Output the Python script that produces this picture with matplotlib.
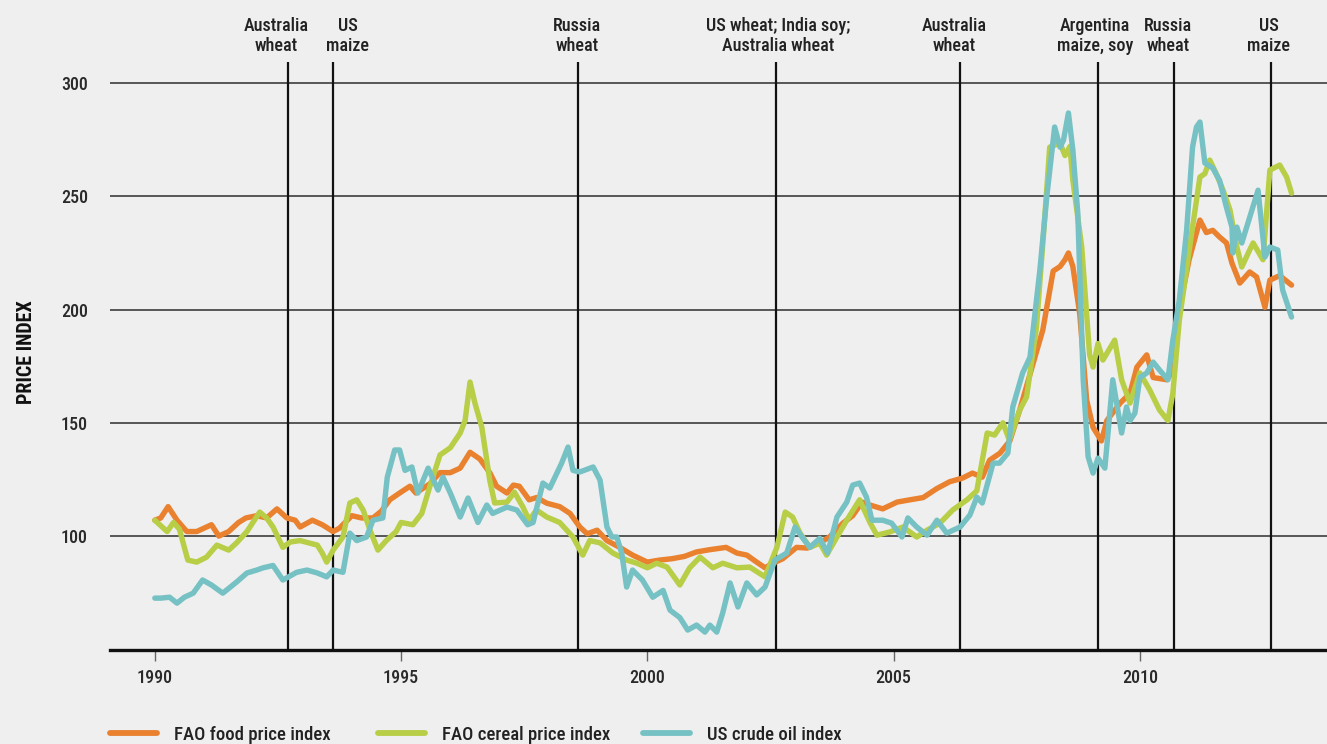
import os
import matplotlib
matplotlib.use("Agg")
import matplotlib.pyplot as plt
from matplotlib.lines import Line2D
import matplotlib.transforms as mtransforms
import matplotlib.font_manager as fm

# ---------------- data ----------------
food_x = [1990.0, 1990.12, 1990.27, 1990.45, 1990.65, 1990.85, 1991.05, 1991.15, 1991.3, 1991.5,
          1991.7, 1991.85, 1992.07, 1992.27, 1992.48, 1992.68, 1992.85, 1992.95, 1993.2, 1993.4,
          1993.62, 1993.75, 1994.0, 1994.2, 1994.43, 1994.6, 1994.77, 1994.97, 1995.18, 1995.3,
          1995.58, 1995.79, 1996.0, 1996.2, 1996.4, 1996.6, 1996.8, 1996.94, 1997.15, 1997.28,
          1997.4, 1997.6, 1997.75, 1997.96, 1998.22, 1998.43, 1998.63, 1998.78, 1998.98, 1999.18,
          1999.44, 1999.7, 2000.0, 2000.25, 2000.5, 2000.75, 2001.0, 2001.27, 2001.6, 2001.82,
          2002.02, 2002.22, 2002.39, 2002.55, 2002.75, 2003.03, 2003.25, 2003.5, 2003.7, 2003.97,
          2004.17, 2004.36, 2004.52, 2004.78, 2005.07, 2005.33, 2005.6, 2005.88, 2006.14, 2006.4,
          2006.6, 2006.8, 2006.95, 2007.16, 2007.36, 2007.56, 2007.83, 2008.03, 2008.24, 2008.38,
          2008.48, 2008.55, 2008.64, 2008.78, 2008.92, 2009.05, 2009.22, 2009.33, 2009.6, 2009.8,
          2009.94, 2010.14, 2010.27, 2010.55, 2010.67, 2010.8, 2011.0, 2011.22, 2011.35, 2011.48,
          2011.62, 2011.76, 2011.87, 2012.03, 2012.23, 2012.37, 2012.54, 2012.64, 2012.84, 2013.08]
food_y = [107, 108, 113, 107, 102, 102, 104, 105, 100, 102,
          106, 108, 109, 108, 112, 108, 107, 104, 107, 105,
          102, 103.5, 109, 108, 108, 111, 116, 119, 122, 119,
          123, 128, 128, 130, 137, 134, 128, 122, 119, 122.5,
          122, 116, 117, 114.5, 113, 110, 104, 101, 102.6, 98,
          95, 91.6, 88.5, 89.4, 90, 91, 93, 94, 95, 92.5,
          91.6, 88.5, 86, 88, 90, 95, 94.7, 97, 99.6, 105.7,
          109, 115, 113.7, 112, 115, 116, 117, 121, 124, 125.6,
          127.8, 126, 133.5, 136.6, 142, 155.6, 176, 191, 217, 219,
          222, 225, 219, 198, 160, 148, 142, 151, 158.7, 163,
          174.6, 180, 170, 169, 173, 200, 222, 239.5, 234, 235,
          232, 229.4, 220.5, 211.7, 216.6, 214.4, 201, 213, 215, 210.8]

cereal_x = [1990.0, 1990.25, 1990.38, 1990.5, 1990.67, 1990.85, 1991.05, 1991.26, 1991.5, 1991.66,
            1991.87, 1992.13, 1992.27, 1992.4, 1992.6, 1992.75, 1992.95, 1993.3, 1993.4, 1993.49,
            1993.62, 1993.82, 1993.96, 1994.1, 1994.23, 1994.37, 1994.53, 1994.7, 1994.9, 1995.0,
            1995.24, 1995.42, 1995.58, 1995.79, 1996.0, 1996.2, 1996.3, 1996.4, 1996.5, 1996.64,
            1996.8, 1996.9, 1997.15, 1997.3, 1997.47, 1997.6, 1997.75, 1997.96, 1998.22, 1998.49,
            1998.69, 1998.83, 1999.04, 1999.3, 1999.58, 1999.79, 2000.0, 2000.19, 2000.4, 2000.66,
            2000.86, 2001.07, 2001.33, 2001.53, 2001.82, 2002.08, 2002.39, 2002.63, 2002.8, 2002.95,
            2003.1, 2003.3, 2003.5, 2003.64, 2003.85, 2004.05, 2004.31, 2004.52, 2004.66, 2004.92,
            2005.19, 2005.47, 2005.68, 2005.94, 2006.2, 2006.49, 2006.69, 2006.9, 2007.05, 2007.22,
            2007.35, 2007.56, 2007.7, 2007.9, 2008.05, 2008.17, 2008.38, 2008.48, 2008.58, 2008.64,
            2008.82, 2008.98, 2009.05, 2009.15, 2009.25, 2009.49, 2009.63, 2009.8, 2010.0, 2010.2,
            2010.4, 2010.57, 2010.67, 2010.8, 2011.06, 2011.22, 2011.32, 2011.42, 2011.55, 2011.69,
            2011.83, 2011.97, 2012.07, 2012.23, 2012.3, 2012.5, 2012.64, 2012.84, 2012.98, 2013.08]
cereal_y = [107, 102, 106, 103, 89.4, 88.5, 90.7, 96, 93.8, 97,
            102, 110.6, 108, 104, 95, 97.4, 98, 96, 92.5, 88.5,
            93.8, 99.6, 114.6, 116, 111.5, 102.6, 93.8, 98, 102, 106,
            105, 110, 121.6, 135.8, 139, 145.5, 151, 168, 158.7, 148,
            124.7, 114.6, 115, 119.4, 113, 107, 111.5, 108.4, 106, 99.6,
            91.6, 98, 97, 92.5, 89.4, 88, 86, 88, 86.3, 78.4,
            86, 90.7, 86, 88, 86, 86.3, 82, 95, 110.6, 108.4,
            101.3, 95, 97, 91.6, 99.6, 107, 116, 106, 100.4, 101.8,
            104, 99.6, 102.6, 105.7, 111.5, 116, 120, 145.5, 144.6, 150,
            142.4, 155.6, 161.4, 192, 235, 271.7, 273.5, 268, 272, 257,
            227.6, 180, 174.6, 185, 177.7, 186.5, 169, 158.7, 172, 164.5,
            155.6, 151, 163, 195, 235, 258.5, 260, 266, 260, 252.7,
            244, 227.6, 218.8, 226.3, 229.4, 222, 261.6, 263.8, 258.5, 251.4]

oil_x = [1990.0, 1990.12, 1990.3, 1990.45, 1990.6, 1990.78, 1990.97, 1991.15, 1991.38, 1991.66,
         1991.87, 1992.07, 1992.2, 1992.4, 1992.6, 1992.88, 1993.09, 1993.3, 1993.49, 1993.62,
         1993.82, 1993.96, 1994.1, 1994.3, 1994.43, 1994.63, 1994.72, 1994.87, 1994.97, 1995.08,
         1995.22, 1995.34, 1995.55, 1995.75, 1995.85, 1996.0, 1996.2, 1996.36, 1996.56, 1996.74,
         1996.86, 1997.15, 1997.35, 1997.57, 1997.68, 1997.88, 1998.02, 1998.26, 1998.39, 1998.49,
         1998.63, 1998.9, 1999.04, 1999.18, 1999.28, 1999.38, 1999.48, 1999.58, 1999.7, 1999.9,
         2000.11, 2000.32, 2000.46, 2000.66, 2000.82, 2001.0, 2001.17, 2001.27, 2001.41, 2001.53,
         2001.68, 2001.84, 2002.02, 2002.22, 2002.39, 2002.59, 2002.83, 2003.0, 2003.16, 2003.3,
         2003.5, 2003.66, 2003.85, 2004.05, 2004.17, 2004.31, 2004.45, 2004.56, 2004.78, 2004.96,
         2005.17, 2005.29, 2005.47, 2005.68, 2005.88, 2006.08, 2006.35, 2006.55, 2006.69, 2006.8,
         2007.02, 2007.15, 2007.32, 2007.42, 2007.62, 2007.77, 2007.9, 2007.97, 2008.11, 2008.27,
         2008.38, 2008.45, 2008.55, 2008.64, 2008.74, 2008.85, 2008.95, 2009.05, 2009.15, 2009.29,
         2009.45, 2009.63, 2009.73, 2009.8, 2009.9, 2010.0, 2010.14, 2010.27, 2010.4, 2010.57,
         2010.67, 2010.8, 2010.95, 2011.07, 2011.15, 2011.22, 2011.32, 2011.48, 2011.62, 2011.76,
         2011.87, 2011.89, 2011.97, 2012.07, 2012.4, 2012.54, 2012.64, 2012.8, 2012.9, 2013.08]
oil_y = [72.6, 72.6, 73, 70.4, 73, 74.8, 80.6, 78.4, 74.8, 79.7,
         83.7, 85, 86, 87, 80.6, 84, 85, 83.7, 82, 85,
         84, 101.3, 98, 99.6, 107, 108, 126, 138, 138, 129,
         130.5, 119, 130, 120.3, 126, 119, 108.4, 116.8, 106, 113.7,
         110, 112.8, 111.5, 105, 106, 123.4, 121.2, 132.2, 139.3, 129,
         128.3, 130.5, 124.7, 104, 99.6, 99.6, 92.5, 77.5, 85, 80.6,
         73, 76, 67.3, 64, 58.5, 60.7, 57.6, 60.7, 57.6, 66,
         79.3, 68.7, 79.3, 74, 77.5, 89.4, 92.5, 104, 99, 95,
         99, 92.5, 108.4, 115, 122.5, 123.4, 117.2, 107, 107, 105.7,
         99.6, 108, 104, 100.4, 107, 101.3, 104, 109.3, 117.2, 114.6,
         132.2, 132.2, 136.6, 157, 172, 179, 204, 217.4, 249.7, 280.6,
         271.7, 274.8, 286.8, 270.4, 242.6, 169, 135, 127.8, 134.4, 130,
         169, 145.5, 157, 151, 154.3, 170, 172, 176.8, 173.3, 169,
         186.5, 204, 235, 271.7, 280.6, 282.8, 264.7, 262.5, 257, 245,
         236.4, 225, 236.4, 229.4, 252.7, 223.2, 227.6, 226.3, 208.6, 196.7]

series_names = ["FAO food price index", "FAO cereal price index", "US crude oil index"]
series_colors = ["#E9812F", "#B7CE46", "#76C1C4"]

event_years = [1992.70, 1993.61, 1998.59, 2002.61, 2006.35, 2009.15, 2010.69, 2012.66]
event_labels = ["Australia\nwheat", "US\nmaize", "Russia\nwheat",
                "US wheat; India soy;\nAustralia wheat", "Australia\nwheat",
                "Argentina\nmaize, soy", "Russia\nwheat", "US\nmaize"]
event_label_x = [1992.46, 1993.92, 1998.57, 2002.65, 2006.24, 2009.09, 2010.57, 2012.62]

y_ticks = [100, 150, 200, 250, 300]
x_ticks = [1990, 1995, 2000, 2005, 2010]


# ---------------- fonts: look for a condensed face ----------------
def find_font(bold=False):
    files = [f.fname for f in fm.fontManager.ttflist]
    regular_prefs = ["notosans-extracondensedmedium", "notosans-extracondensed.ttf",
                     "liberationsansnarrow-regular", "notosans-condensedmedium",
                     "opensans-condensedmedium", "opensans_condensed-medium",
                     "opensans-condensed", "opensans_condensed-regular",
                     "robotocondensed-regular", "roboto-condensed",
                     "notosans-condensed.ttf", "dejavusanscondensed.ttf"]
    bold_prefs = ["notosans-extracondensedbold", "liberationsansnarrow-bold.",
                  "notosans-condensedbold", "opensans-condensedbold",
                  "opensans_condensed-bold", "robotocondensed-bold",
                  "dejavusanscondensed-bold.ttf"]
    prefs = bold_prefs if bold else regular_prefs
    for p in prefs:
        for fn in files:
            base = os.path.basename(fn).lower()
            if p in base and "italic" not in base and "oblique" not in base:
                return fm.FontProperties(fname=fn)
    for fn in files:
        base = os.path.basename(fn).lower()
        if ("narrow" in base or "condensed" in base) and "italic" not in base \
                and "oblique" not in base and (("bold" in base) == bold) \
                and "light" not in base and "thin" not in base:
            return fm.FontProperties(fname=fn)
    return None


def medium_variant(prop):
    # try a slightly heavier weight of the same condensed family
    if prop is None:
        return None
    fn = str(prop.get_file() or "")
    if not fn:
        return prop
    cands = []
    d, b = os.path.split(fn)
    for old, new in [("-Regular", "-Medium"), ("Medium", "Medium"),
                     ("ExtraCondensed.ttf", "ExtraCondensedMedium.ttf"),
                     ("Condensed.ttf", "CondensedMedium.ttf")]:
        if old in b:
            cands.append(os.path.join(d, b.replace(old, new)))
    for c in cands:
        if os.path.exists(c):
            return fm.FontProperties(fname=c)
    return prop


fp_reg = find_font(False)
fp_bold = find_font(True)
if fp_reg is None:
    fp_reg = fm.FontProperties(family=["Liberation Sans", "DejaVu Sans"])
if fp_bold is None:
    fp_bold = fm.FontProperties(family=["Liberation Sans", "DejaVu Sans"], weight="bold")
_name = os.path.basename(str(fp_reg.get_file() or "")).lower()
narrow_scale = 1.15 if ("extracondensed" in _name or "narrow" in _name) else 1.0
fp_med = medium_variant(fp_reg)


def fp(base, size):
    f = base.copy()
    f.set_size(size * narrow_scale)
    return f


# ---------------- figure ----------------
bg = "#EFEFEF"
fig = plt.figure(figsize=(13.27, 7.44), dpi=100, facecolor=bg)
ax = fig.add_axes([110/1327, 1 - 650/744, 1 - 110/1327, (650 - 62)/744])
ax.set_facecolor(bg)

ax.set_xlim(1989.09, 2013.8)
ax.set_ylim(49.7, 309.3)

for v in y_ticks:
    ax.axhline(v, color="#4a4a4a", lw=1.3, zorder=1)
for ex in event_years:
    ax.axvline(ex, color="#111111", lw=1.6, zorder=1)

for xs, ys, c in zip([food_x, cereal_x, oil_x], [food_y, cereal_y, oil_y], series_colors):
    ax.plot(xs, ys, color=c, lw=3.9, solid_joinstyle="round", solid_capstyle="round", zorder=3)

for s in ["top", "right", "left"]:
    ax.spines[s].set_visible(False)
ax.spines["bottom"].set_color("#111111")
ax.spines["bottom"].set_linewidth(2.4)
ax.spines["bottom"].set_zorder(4)

ax.set_yticks(y_ticks)
ax.set_yticklabels([str(v) for v in y_ticks], fontproperties=fp(fp_med, 13), color="#2a2a2a")
ax.tick_params(axis="y", length=0, pad=16)
ax.set_xticks(x_ticks)
ax.set_xticklabels([str(v) for v in x_ticks], fontproperties=fp(fp_med, 13), color="#2a2a2a")
ax.tick_params(axis="x", length=8, width=1, color="#666666", pad=6)

fig.text(27/1327, 1 - 352/744, "PRICE INDEX", rotation=90, ha="center", va="center",
         fontproperties=fp(fp_bold, 14.5), color="#111111")

trans = mtransforms.blended_transform_factory(ax.transData, fig.transFigure)
for lx, lab in zip(event_label_x, event_labels):
    ax.text(lx, 1 - 55/744, lab, transform=trans, ha="center", va="bottom",
            fontproperties=fp(fp_med, 13), color="#222222", linespacing=1.15)

# legend (manual)
leg_x0 = [110, 378, 643]
for x0, name, c in zip(leg_x0, series_names, series_colors):
    fig.add_artist(Line2D([x0/1327, (x0 + 47)/1327], [1 - 733/744, 1 - 733/744],
                          color=c, lw=4.2, solid_capstyle="round"))
    fig.text((x0 + 64)/1327, 1 - 735/744, name, ha="left", va="center",
             fontproperties=fp(fp_med, 13.5), color="#222222")

fig.savefig("out.png", dpi=100, facecolor=bg)
